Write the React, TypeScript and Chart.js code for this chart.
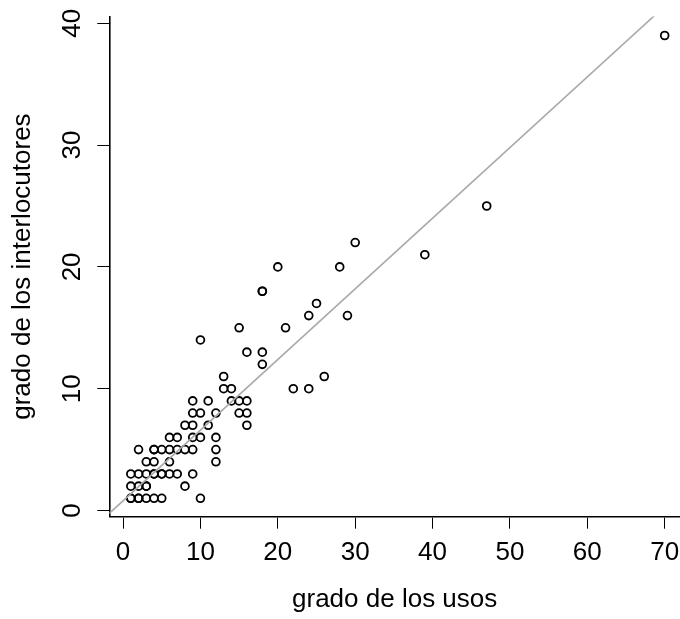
import React, { useEffect, useRef } from 'react';
import { Chart, registerables } from 'chart.js';

Chart.register(...registerables);

// grado de los usos (x) and grado de los interlocutores (y), one entry per point
const USOS = [
  1, 2, 2, 3, 4, 5, 10, 1,
  1, 2, 3, 3, 8,
  1, 2, 3, 4, 4, 5, 5, 6, 7, 9,
  3, 4, 6, 12,
  2, 4, 4, 5, 6, 7, 8, 9, 12,
  6, 7, 9, 10, 12,
  8, 9, 11, 16,
  9, 10, 12, 15, 16,
  9, 11, 14, 15, 16,
  13, 14, 22, 24,
  13, 26,
  18,
  16, 18,
  10,
  15, 21,
  24, 29,
  25,
  18, 18,
  20, 28,
  39,
  30,
  47,
  70,
];
const INTERLOCUTORES = [
  1, 1, 1, 1, 1, 1, 1, 1,
  2, 2, 2, 2, 2,
  3, 3, 3, 3, 3, 3, 3, 3, 3, 3,
  4, 4, 4, 4,
  5, 5, 5, 5, 5, 5, 5, 5, 5,
  6, 6, 6, 6, 6,
  7, 7, 7, 7,
  8, 8, 8, 8, 8,
  9, 9, 9, 9, 9,
  10, 10, 10, 10,
  11, 11,
  12,
  13, 13,
  14,
  15, 15,
  16, 16,
  17,
  18, 18,
  20, 20,
  21,
  22,
  25,
  39,
];

const X_TICKS = [0, 10, 20, 30, 40, 50, 60, 70];
const Y_TICKS = [0, 10, 20, 30, 40];
const X_MIN = -1.78;
const X_MAX = 71.98;
const Y_MIN = -0.51;
const Y_MAX = 40.56;

// reference line (intercept, slope)
const LINE_INTERCEPT = 0.8;
const LINE_SLOPE = 0.58;

const X_TITLE = 'grado de los usos';
const Y_TITLE = 'grado de los interlocutores';

const FONT_FAMILY = "'Liberation Sans', Arial, Helvetica, sans-serif";

export default function App() {
  const canvasRef = useRef<HTMLCanvasElement | null>(null);

  useEffect(() => {
    const canvas = canvasRef.current;
    if (!canvas) return;

    const points = USOS.map((x, i) => ({ x, y: INTERLOCUTORES[i] }));
    const lineData = [X_MIN, X_MAX].map((x) => ({ x, y: LINE_INTERCEPT + LINE_SLOPE * x }));

    const font = { family: FONT_FAMILY, size: 26 };

    const chart = new Chart(canvas, {
      type: 'scatter',
      data: {
        datasets: [
          {
            type: 'line',
            data: lineData,
            borderColor: '#a9a9a9',
            borderWidth: 1.6,
            pointRadius: 0,
            pointHoverRadius: 0,
            fill: false,
            order: 0,
          } as any,
          {
            data: points,
            pointStyle: 'circle',
            pointRadius: 3.9,
            pointHoverRadius: 3.9,
            pointBorderWidth: 1.8,
            pointBorderColor: '#000000',
            pointBackgroundColor: 'rgba(0,0,0,0)',
            showLine: false,
            order: 1,
          } as any,
        ],
      },
      options: {
        responsive: false,
        animation: false,
        devicePixelRatio: 1,
        events: [],
        layout: { autoPadding: false, padding: { top: 16.5, right: 0, bottom: 0, left: 0 } },
        plugins: {
          legend: { display: false },
          tooltip: { enabled: false },
          title: { display: false },
        },
        scales: {
          x: {
            type: 'linear',
            min: X_MIN,
            max: X_MAX,
            afterBuildTicks: (s: any) => {
              s.ticks = X_TICKS.map((v) => ({ value: v }));
            },
            afterFit: (s: any) => {
              s.height = 102.3;
              s.paddingLeft = 0;
              s.paddingRight = 0;
            },
            grid: {
              drawOnChartArea: false,
              drawTicks: true,
              tickLength: 12,
              color: '#000000',
              lineWidth: 1,
            },
            border: { display: true, color: '#000000', width: 1.6 },
            ticks: {
              color: '#000000',
              font,
              padding: 8.8,
              maxRotation: 0,
              minRotation: 0,
              autoSkip: false,
              callback: (v: any) => String(v),
            },
            title: {
              display: true,
              text: X_TITLE,
              color: '#000000',
              font,
              padding: { top: 0, bottom: 3.6 },
            },
          },
          y: {
            type: 'linear',
            min: Y_MIN,
            max: Y_MAX,
            afterBuildTicks: (s: any) => {
              s.ticks = Y_TICKS.map((v) => ({ value: v }));
            },
            afterFit: (s: any) => {
              s.width = 109.3;
              s.paddingTop = 0;
              s.paddingBottom = 0;
            },
            grid: {
              drawOnChartArea: false,
              drawTicks: true,
              tickLength: 12,
              color: '#000000',
              lineWidth: 1,
            },
            border: { display: true, color: '#000000', width: 1.6 },
            ticks: {
              color: '#000000',
              font,
              padding: 9.7,
              minRotation: 90,
              maxRotation: 90,
              crossAlign: 'center',
              autoSkip: false,
              callback: (v: any) => String(v),
            },
            title: {
              display: true,
              text: Y_TITLE,
              color: '#000000',
              font,
              padding: { top: 7.2, bottom: 0 },
            },
          },
        },
      } as any,
    });

    return () => {
      chart.destroy();
    };
  }, []);

  return (
    <div style={{ position: 'absolute', left: 0, top: 0, width: 680, height: 619, background: '#ffffff' }}>
      <canvas ref={canvasRef} width={680} height={619} style={{ display: 'block' }} />
    </div>
  );
}
